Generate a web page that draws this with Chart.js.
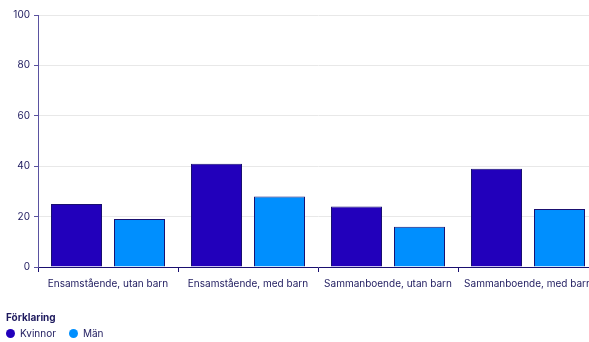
<!DOCTYPE html>
<html><head><meta charset="utf-8">
<script src="https://cdn.jsdelivr.net/npm/chart.js@4"></script>
<style>
html,body{margin:0;padding:0;background:#fff;overflow:hidden;}
#wrap{width:600px;height:342px;position:relative;}
#legend{position:absolute;left:6px;top:311px;font-family:Inter,"Noto Sans",sans-serif;font-size:10px;color:#1e1a5e;line-height:12px;}
#legend .t{font-weight:bold;margin-bottom:4px;}
#legend .items{display:flex;align-items:center;}
#legend .it{display:flex;align-items:center;margin-right:13px;}
#legend .dot{width:9px;height:9px;border-radius:50%;margin-right:5px;}
</style></head>
<body>
<div id="wrap"><canvas id="c"></canvas>
<div id="legend"><div class="t">Förklaring</div><div class="items" id="items"></div></div>
</div>
<script>
const categories = ["Ensamstående, utan barn","Ensamstående, med barn","Sammanboende, utan barn","Sammanboende, med barn"];
const kvinnor = [25, 41, 24, 39];
const man = [19, 28, 16, 23];
const seriesNames = ["Kvinnor","Män"];
const seriesColors = ['#2200bb', '#008ffe'];
const yTicks = [0,20,40,60,80,100];

const navy = '#1e1a5e';
const font = {family: 'Inter, "Noto Sans", sans-serif', size: 10};

const chart = new Chart(document.getElementById('c'), {
  type: 'bar',
  data: {
    labels: categories,
    datasets: [
      {label: seriesNames[0], data: kvinnor, backgroundColor: seriesColors[0], borderColor: '#1a1070', borderWidth: 1, borderSkipped: 'bottom'},
      {label: seriesNames[1], data: man, backgroundColor: seriesColors[1], borderColor: '#1a1070', borderWidth: 1, borderSkipped: 'bottom'}
    ]
  },
  options: {
    responsive: true, maintainAspectRatio: false, animation: false,
    categoryPercentage: 0.9, barPercentage: 0.81,
    layout: {padding: {top: 15, left: 0, right: 2, bottom: 46}},
    scales: {
      x: {
        grid: {drawOnChartArea: false, drawTicks: true, tickLength: 5, color: '#1a1070', offset: true},
        border: {color: '#1a1070', width: 1},
        ticks: {color: navy, font: font, maxRotation: 0, padding: 6}
      },
      y: {
        min: 0, max: 100,
        afterBuildTicks: (s) => { s.ticks = yTicks.map(v => ({value: v})); },
        afterFit: (s) => { s.width = 38; },
        grid: {color: '#e8e8e8', tickColor: '#5a52a0', tickLength: 4},
        border: {color: '#5a52a0', width: 1},
        ticks: {color: navy, font: font, padding: 4}
      }
    },
    plugins: {
      legend: {display: false},
      tooltip: {enabled: false}
    }
  }
});

const items = document.getElementById('items');
chart.data.datasets.forEach(ds => {
  const it = document.createElement('div'); it.className = 'it';
  const d = document.createElement('span'); d.className = 'dot'; d.style.background = ds.backgroundColor;
  const t = document.createElement('span'); t.textContent = ds.label;
  it.appendChild(d); it.appendChild(t); items.appendChild(it);
});
</script>
</body></html>
